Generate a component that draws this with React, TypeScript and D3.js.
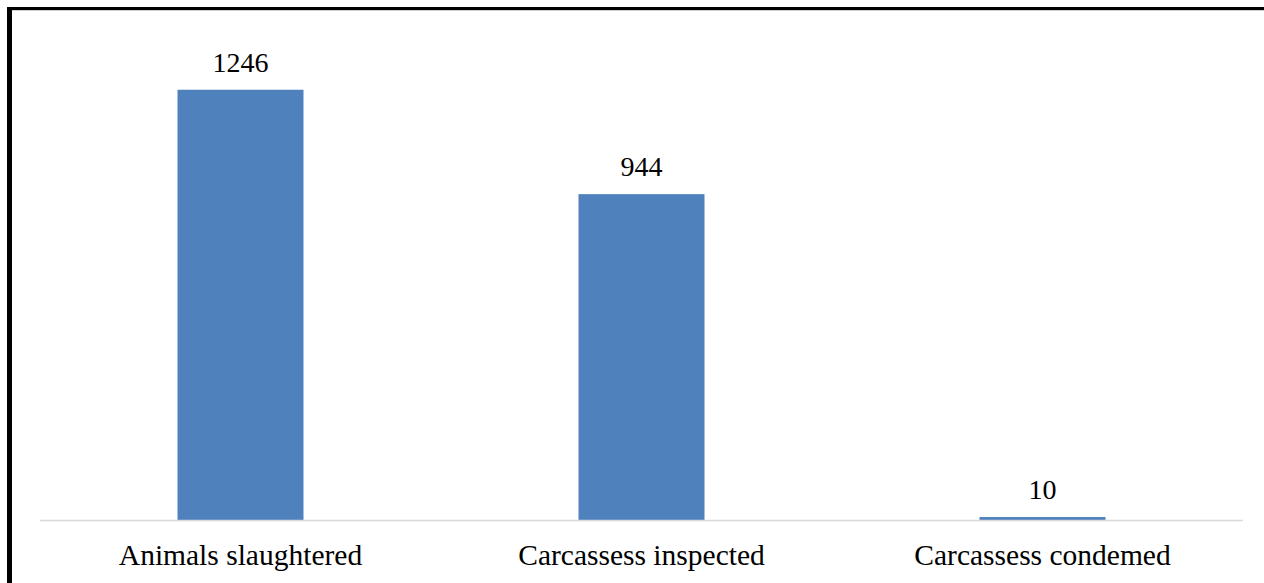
import * as d3 from "d3";

const categories = ["Animals slaughtered", "Carcassess inspected", "Carcassess condemed"];
const values = [1246, 944, 10];
const yDomainMax = 1400;

type Datum = { name: string; value: number };

const App = () => {
  const width = 1264;
  const height = 583;
  const margins = { top: 36.5, right: 21, bottom: 62.5, left: 40 };
  const boundedWidth = width - margins.left - margins.right;
  const boundedHeight = height - margins.top - margins.bottom;

  const data: Datum[] = categories.map((c, i) => ({ name: c, value: values[i] }));

  const gap = 1 - 126 / (boundedWidth / categories.length);
  const xScale = d3
    .scaleBand<string>()
    .domain(categories)
    .range([0, boundedWidth])
    .paddingInner(gap)
    .paddingOuter(gap / 2);

  const yScale = d3.scaleLinear().domain([0, yDomainMax]).range([boundedHeight, 0]);

  const font = "'Liberation Serif', 'Times New Roman', serif";

  return (
    <div style={{ position: "absolute", left: 0, top: 0 }}>
      <svg width={width} height={height} style={{ display: "block" }}>
        <rect x={0} y={0} width={width} height={height} fill="#ffffff" />
        {/* frame */}
        <rect x={7} y={7} width={width - 7} height={3} fill="#000000" />
        <rect x={10} y={10} width={width - 10} height={1} fill="#d0d0d0" />
        <rect x={7} y={7} width={5} height={height - 7} fill="#000000" />
        <g transform={`translate(${margins.left},${margins.top})`}>
          {data.map((d) => (
            <rect
              key={d.name}
              x={xScale(d.name)}
              y={yScale(d.value)}
              width={xScale.bandwidth()}
              height={boundedHeight - yScale(d.value)}
              fill="#4f81bd"
            />
          ))}
          <line x1={0} x2={boundedWidth} y1={boundedHeight} y2={boundedHeight} stroke="#d9d9d9" strokeWidth={1.5} />
          {data.map((d) => (
            <text
              key={"v" + d.name}
              x={(xScale(d.name) || 0) + xScale.bandwidth() / 2}
              y={yScale(d.value) - 18}
              textAnchor="middle"
              fontFamily={font}
              fontSize={28}
              fill="#000000"
            >
              {d.value}
            </text>
          ))}
          {data.map((d) => (
            <text
              key={"c" + d.name}
              x={(xScale(d.name) || 0) + xScale.bandwidth() / 2}
              y={boundedHeight + 44.5}
              textAnchor="middle"
              fontFamily={font}
              fontSize={29.5}
              fill="#000000"
            >
              {d.name}
            </text>
          ))}
        </g>
      </svg>
    </div>
  );
};

export default App;
